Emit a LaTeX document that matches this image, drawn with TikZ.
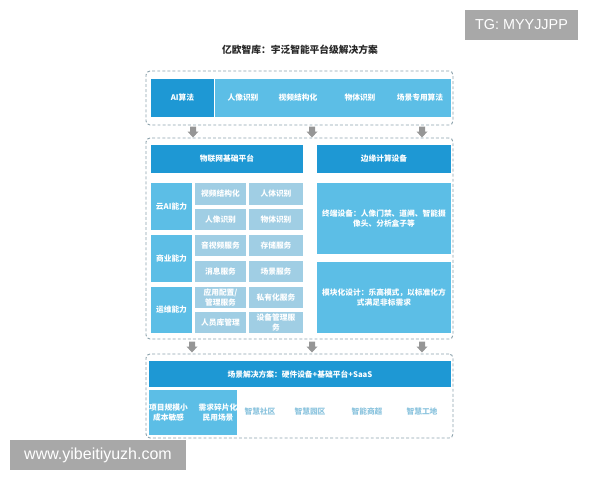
\documentclass[tikz,border=0pt]{standalone}
\usepackage{fontspec}
\setmainfont{Noto Sans CJK SC}
\newfontfamily\wmfont{Liberation Sans}
\usetikzlibrary{fit}
\definecolor{darkblue}{RGB}{30,152,212}
\definecolor{lightblue}{RGB}{92,190,230}
\definecolor{paleblue}{RGB}{160,206,228}
\definecolor{dashgray}{RGB}{140,162,172}
\definecolor{arrowgray}{RGB}{150,150,150}
\definecolor{scenetext}{RGB}{140,196,222}
\definecolor{titlegray}{RGB}{40,40,40}
\definecolor{wmgray}{RGB}{168,168,168}
\tikzset{
  cellfont/.style={font=\fontsize{5.8}{7.2}\selectfont\bfseries},
  box/.style={inner sep=0pt, outer sep=0pt},
  darkcell/.style={box, fill=darkblue},
  lightcell/.style={box, fill=lightblue},
  palecell/.style={box, fill=paleblue},
  txt/.style={inner sep=0pt, text=white, align=center, cellfont},
  dashbox/.style={draw=dashgray, line width=0.7pt, dash pattern=on 2.2pt off 1.6pt, rounded corners=3pt, inner sep=0pt},
  scene/.style={inner sep=0pt, text=scenetext, cellfont},
  wmbox/.style={fill=wmgray, inner sep=0pt},
  dnarrow/.pic={\fill[arrowgray] (-3,0) -- (3,0) -- (3,5) -- (5.5,5) -- (0,11) -- (-5.5,5) -- (-3,5) -- cycle;},
}
\newcommand\mycell[7]{%
  \node[#1, fit={(#3,#4) (#5,#6)}] (#2) {};
  \node[txt] (#2-t) at (#2.center) {#7};}
\begin{document}
\begin{tikzpicture}[x=0.75pt,y=-0.75pt]
\useasboundingbox (0,0) rectangle (600,480);
% watermark top right
\node[wmbox, fit={(465,10) (578,40)}] (tg) {};
\node[text=white, inner sep=0pt, font=\wmfont\fontsize{10.8}{12}\selectfont] (tgt) at (tg.center) {TG: MYYJJPP};
% title
\node[inner sep=0pt, text=titlegray, font=\fontsize{7.3}{9}\selectfont\bfseries] (title) at (300,50) {亿欧智库：宇泛智能平台级解决方案};

% top section
\node[dashbox, fit={(146,71) (453,125)}] (topbox) {};
\mycell{darkcell}{ai}{151}{79}{214}{117}{AI算法}
\node[lightcell, fit={(215,79) (451,117)}] (strip) {};
\node[txt] (t1) at (243,98) {人像识别};
\node[txt] (t2) at (298,98) {视频结构化};
\node[txt] (t3) at (360,98) {物体识别};
\node[txt] (t4) at (420,98) {场景专用算法};

% arrows top -> middle
\pic at (193,126.5) {dnarrow};
\pic at (312,126.5) {dnarrow};
\pic at (422,126.5) {dnarrow};

% middle section
\node[dashbox, fit={(146,138) (453,339)}] (midbox) {};
\mycell{darkcell}{iot}{151}{145}{303}{173}{物联网基础平台}
\mycell{darkcell}{edge}{317}{145}{451}{173}{边缘计算设备}

\mycell{lightcell}{cloudai}{151}{183}{192}{230}{云AI能力}
\mycell{palecell}{c11}{195}{183}{246}{205}{视频结构化}
\mycell{palecell}{c12}{249}{183}{303}{205}{人体识别}
\mycell{palecell}{c21}{195}{209}{246}{230}{人像识别}
\mycell{palecell}{c22}{249}{209}{303}{230}{物体识别}

\mycell{lightcell}{biz}{151}{235}{192}{282}{商业能力}
\mycell{palecell}{c31}{195}{235}{246}{256}{音视频服务}
\mycell{palecell}{c32}{249}{235}{303}{256}{存储服务}
\mycell{palecell}{c41}{195}{261}{246}{282}{消息服务}
\mycell{palecell}{c42}{249}{261}{303}{282}{场景服务}

\mycell{lightcell}{ops}{151}{287}{192}{333}{运维能力}
\mycell{palecell}{c51}{195}{287}{246}{308}{应用配置/\\管理服务}
\mycell{palecell}{c52}{249}{287}{303}{308}{私有化服务}
\mycell{palecell}{c61}{195}{312}{246}{333}{人员库管理}
\mycell{palecell}{c62}{249}{312}{303}{333}{设备管理服\\务}

\mycell{lightcell}{term}{317}{183}{451}{254}{终端设备：人像门禁、道闸、智能摄\\像头、分析盒子等}
\mycell{lightcell}{mod}{317}{262}{451}{333}{模块化设计：乐高模式，以标准化方\\式满足非标需求}

% arrows middle -> bottom
\pic at (192,341.5) {dnarrow};
\pic at (312,341.5) {dnarrow};
\pic at (422,341.5) {dnarrow};

% bottom section
\node[dashbox, fit={(146,354) (453,438)}] (botbox) {};
\mycell{darkcell}{sol}{149}{361}{451}{387}{场景解决方案：硬件设备+基础平台+SaaS}
\node[lightcell, fit={(149,390) (237,435)}] (feat) {};
\node[txt] (f1) at (168.5,412.5) {项目规模小\\成本敏感};
\node[txt] (f2) at (218,412.5) {需求碎片化\\民用场景};
\node[scene] (s1) at (260,412) {智慧社区};
\node[scene] (s2) at (310,412) {智慧园区};
\node[scene] (s3) at (367,412) {智能商超};
\node[scene] (s4) at (422,412) {智慧工地};

% watermark bottom left
\node[wmbox, fit={(10,440) (186,470)}] (wm) {};
\node[text=white, inner sep=0pt, font=\wmfont\fontsize{12}{14}\selectfont] (wmt) at (wm.center) {www.yibeitiyuzh.com};
\end{tikzpicture}
\end{document}
